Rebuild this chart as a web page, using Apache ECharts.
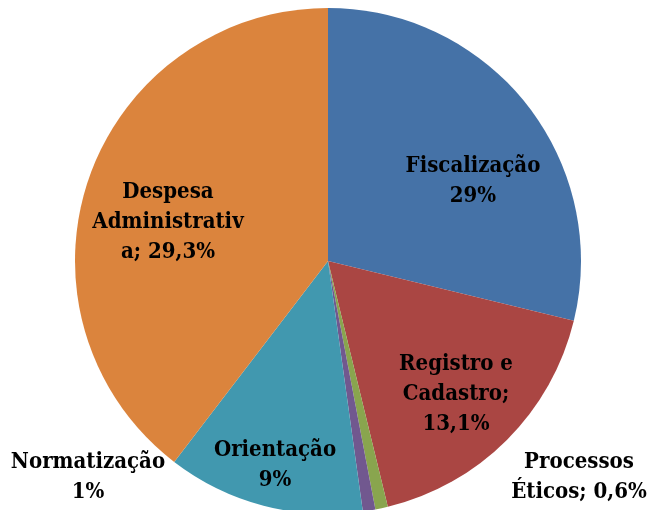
<!DOCTYPE html>
<html>
<head>
<meta charset="utf-8">
<script src="https://cdn.jsdelivr.net/npm/echarts@6/dist/echarts.min.js"></script>
<style>
  html, body { margin: 0; padding: 0; background: #fff; }
  #chart { width: 651px; height: 510px; }
</style>
</head>
<body>
<div id="chart"></div>
<script>
// slice shares (angles), and the label texts as printed
var categories = ['Fiscalização', 'Registro e Cadastro', 'Processos Éticos', 'Normatização', 'Orientação', 'Despesa Administrativa'];
var sliceValues = [28.8, 17.4, 0.8, 0.8, 12.6, 39.6];
var labelTexts = ['Fiscalização\n29%', 'Registro e\nCadastro;\n13,1%', 'Processos\nÉticos; 0,6%', 'Normatização\n1%', 'Orientação\n9%', 'Despesa\nAdministrativ\na; 29,3%'];
var colors = ['#4572A7', '#AA4643', '#89A54E', '#71588F', '#4198AF', '#DB843D'];

// label centres (layout only)
var labelPos = [[473, 181], [456, 394], [579, 477], [88, 477], [275, 465], [168, 222]];

var chart = echarts.init(document.getElementById('chart'));

var option = {
  animation: false,
  color: colors,
  series: [{
    type: 'pie',
    center: [328, 261],
    radius: 253,
    startAngle: 90,
    clockwise: true,
    data: categories.map(function (c, i) {
      return { name: c, value: sliceValues[i] };
    }),
    label: {
      show: true,
      position: 'inside',
      formatter: function (p) { return labelTexts[p.dataIndex]; },
      color: '#000',
      fontFamily: '"DejaVu Serif Condensed", "DejaVu Serif"',
      fontWeight: 'bold',
      fontSize: 22,
      lineHeight: 30,
      align: 'center'
    },
    labelLine: { show: false },
    labelLayout: function (params) {
      var p = labelPos[params.dataIndex];
      return { x: p[0], y: p[1], align: 'center', verticalAlign: 'middle' };
    },
    itemStyle: { borderWidth: 0 }
  }]
};
chart.setOption(option);
</script>
</body>
</html>
